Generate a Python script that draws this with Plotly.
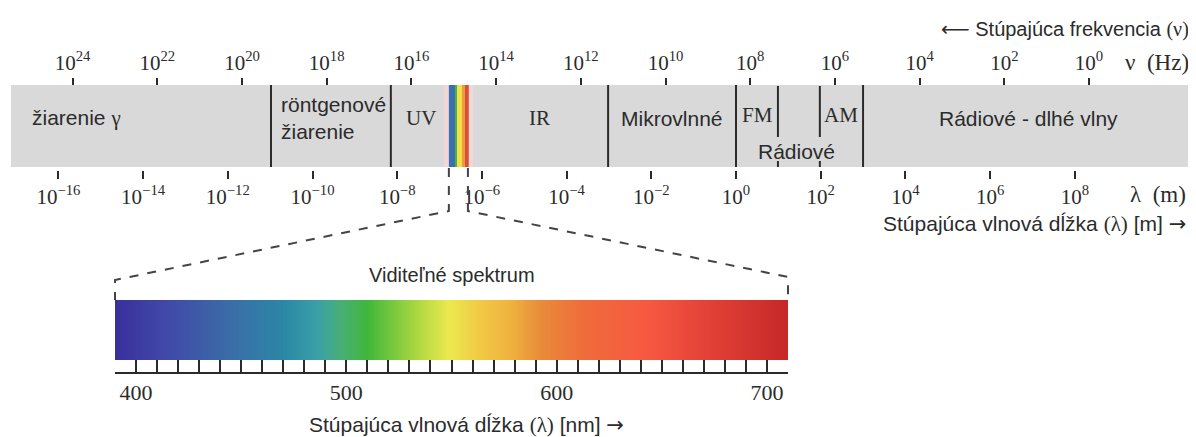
import plotly.graph_objects as go

# ---------------- data ----------------
# wavelength axis (log10 of metres) and frequency axis (log10 of Hz)
lambda_exponents = [-16, -14, -12, -10, -8, -6, -4, -2, 0, 2, 4, 6, 8]
nu_exponents = [24, 22, 20, 18, 16, 14, 12, 10, 8, 6, 4, 2, 0]

# grey band extent and region boundaries, in log10(lambda / m)
band_extent = [-17.12, 10.72]
full_boundaries = [-10.98, -8.15, -3.02, 0.0, 3.0]
fm_boundary = 0.99
am_boundary = 1.98

SERIF_SPAN = '<span style="font-family:Liberation Serif, Times New Roman, serif">{}</span>'
ARROW_SPAN = '<span style="font-family:DejaVu Sans">{}</span>'

# region labels
band_labels = ["žiarenie " + SERIF_SPAN.format("γ"), "röntgenové<br>žiarenie", "UV", "IR", "Mikrovlnné",
               "FM", "AM", "Rádiové", "Rádiové - dlhé vlny"]
band_label_pos = [-16.67, -10.8, -7.44, -4.63, -1.51, 0.5, 2.48, 1.44, 6.9]
band_label_serif = [False, False, True, True, False, True, True, False, False]
band_label_left = [True, True, False, False, False, False, False, False, False]
band_label_row = ["mid", "mid", "mid", "mid", "mid", "upper", "upper", "lower", "mid"]

# narrow visible strip inside the band (log10 lambda edges + colours)
strip_edges = [-6.78, -6.635, -6.588, -6.47, -6.40, -6.31]
strip_colors = ["#3b6fb0", "#4cb04a", "#f1e04a", "#f29a3a", "#d9503a"]
strip_halo = [-6.9, -6.21]

# visible spectrum (nm)
spectrum_range = [390, 710]
spectrum_stops_nm = [390, 414, 446, 470, 486, 497, 510, 533, 549, 565, 578, 592, 612, 644, 668, 710]
spectrum_colors = ["#3a2f9c", "#4148a8", "#3a6ea8", "#2b87a6", "#3a9fa8", "#48ae78",
                   "#40b73a", "#a9d741", "#ece84f", "#f1c743", "#efb33f", "#e88c39",
                   "#ef6d3a", "#f75841", "#e54438", "#c62828"]
nm_label_ticks = [400, 500, 600, 700]
nm_tick_labels = ["400", "500", "600", "700"]
nm_minor_step = 10

# ---------------- geometry helpers ----------------
# the page adds an 8 px body margin, so the figure is 8 px smaller and all
# reference pixel positions are shifted by OFF
OFF = 8
W, H = 1196 - OFF, 437 - OFF
PX_PER_DECADE = 42.35
L_AT_ZERO_PX = 736                 # reference pixel of lambda = 1 m
NU_AT_ZERO_PX = 1089               # reference pixel of nu = 1 Hz
L_RANGE = [(OFF - L_AT_ZERO_PX) / PX_PER_DECADE, (1196 - L_AT_ZERO_PX) / PX_PER_DECADE]
NU_RANGE = [(NU_AT_ZERO_PX - OFF) / PX_PER_DECADE, (NU_AT_ZERO_PX - 1196) / PX_PER_DECADE]
NM_DOMAIN = [(115 - OFF) / W, (788 - OFF) / W]

SANS = "Liberation Sans, Arial, sans-serif"
SERIF = "Liberation Serif, Times New Roman, serif"
INK = "#2b2b2b"


def px(xr):
    return (xr - OFF) / W


def py(yr):
    return 1 - (yr - OFF) / H


def L_to_paper(v):
    return (v - L_RANGE[0]) / (L_RANGE[1] - L_RANGE[0])


def nm_to_paper(v):
    return NM_DOMAIN[0] + (v - spectrum_range[0]) / (spectrum_range[1] - spectrum_range[0]) * (NM_DOMAIN[1] - NM_DOMAIN[0])


def sup_label(e):
    s = str(e).replace("-", "−")
    return f"10<sup>{s}</sup>"


fig = go.Figure()

# spectrum heatmap
edges = list(range(spectrum_range[0], spectrum_range[1] + 1))
centers = [e + 0.5 for e in edges[:-1]]
span = spectrum_range[1] - spectrum_range[0]
cscale = [[(n - spectrum_range[0]) / span, c] for n, c in zip(spectrum_stops_nm, spectrum_colors)]
fig.add_trace(go.Heatmap(x=edges, y=[300, 360], z=[centers], colorscale=cscale,
                         zmin=spectrum_range[0], zmax=spectrum_range[1], showscale=False,
                         hoverinfo="skip", xaxis="x3", yaxis="y"))

# invisible traces to activate the lambda / nu axes
fig.add_trace(go.Scatter(x=lambda_exponents, y=[None] * len(lambda_exponents), mode="markers",
                         showlegend=False, hoverinfo="skip", xaxis="x", yaxis="y"))
fig.add_trace(go.Scatter(x=nu_exponents, y=[None] * len(nu_exponents), mode="markers",
                         showlegend=False, hoverinfo="skip", xaxis="x2", yaxis="y"))

shapes = []
# grey band
shapes.append(dict(type="rect", xref="x", yref="y", x0=band_extent[0], x1=band_extent[1],
                   y0=85, y1=167, fillcolor="#d9d9d9", line=dict(width=0), layer="below"))
# halo around visible strip
shapes.append(dict(type="rect", xref="x", yref="y", x0=strip_halo[0], x1=strip_halo[1],
                   y0=85, y1=167, fillcolor="#f1d8d5", line=dict(width=0), layer="below"))
for i, c in enumerate(strip_colors):
    shapes.append(dict(type="rect", xref="x", yref="y", x0=strip_edges[i], x1=strip_edges[i + 1],
                       y0=85, y1=167, fillcolor=c, line=dict(width=0), layer="below"))
# boundaries
for b in full_boundaries:
    shapes.append(dict(type="line", xref="x", yref="y", x0=b, x1=b, y0=85, y1=167,
                       line=dict(color=INK, width=2)))
for b in (fm_boundary, am_boundary):
    shapes.append(dict(type="line", xref="x", yref="y", x0=b, x1=b, y0=86, y1=137,
                       line=dict(color=INK, width=2)))
    shapes.append(dict(type="line", xref="x", yref="y", x0=b, x1=b, y0=161, y1=167,
                       line=dict(color=INK, width=2)))

# dashed connectors from the strip to the spectrum
left_top = L_to_paper(strip_edges[0])
right_top = L_to_paper(-6.33)
lx, rx = nm_to_paper(spectrum_range[0]), nm_to_paper(spectrum_range[1])

shapes.append(dict(type="path", xref="paper", yref="paper",
                   path=f"M {left_top} {py(168)} L {left_top} {py(211)} L {lx} {py(280)} L {lx} {py(300)}",
                   line=dict(color="#444", width=2, dash="dash")))
shapes.append(dict(type="path", xref="paper", yref="paper",
                   path=f"M {right_top} {py(168)} L {right_top} {py(211)} L {rx} {py(277)} L {rx} {py(300)}",
                   line=dict(color="#444", width=2, dash="dash")))

annotations = []
row_y = {"mid": 118, "upper": 115, "lower": 151}
for txt, pos, serif, left, row in zip(band_labels, band_label_pos, band_label_serif,
                                      band_label_left, band_label_row):
    annotations.append(dict(x=pos, y=row_y[row], xref="x", yref="y", text=txt, showarrow=False,
                            xanchor="left" if left else "center", yanchor="middle",
                            align="left", font=dict(family=SERIF if serif else SANS, size=21, color=INK)))

annotations += [
    dict(x=px(1191), y=py(29), xref="paper", yref="paper",
         text=ARROW_SPAN.format("⟵") + " Stúpajúca frekvencia " + SERIF_SPAN.format("(ν)"),
         showarrow=False, xanchor="right", yanchor="middle", font=dict(family=SANS, size=20, color=INK)),
    dict(x=px(1191), y=py(63), xref="paper", yref="paper", text="ν  (Hz)",
         showarrow=False, xanchor="right", yanchor="middle", font=dict(family=SERIF, size=23, color=INK)),
    dict(x=px(1188), y=py(194), xref="paper", yref="paper", text="λ  (m)",
         showarrow=False, xanchor="right", yanchor="middle", font=dict(family=SERIF, size=23, color=INK)),
    dict(x=px(1188), y=py(224), xref="paper", yref="paper",
         text="Stúpajúca vlnová dĺžka " + SERIF_SPAN.format("(λ)") + " [m] " + ARROW_SPAN.format("→"),
         showarrow=False, xanchor="right", yanchor="middle", font=dict(family=SANS, size=21, color=INK)),
    dict(x=px(452), y=py(275), xref="paper", yref="paper", text="Viditeľné spektrum",
         showarrow=False, xanchor="center", yanchor="middle", font=dict(family=SANS, size=20, color=INK)),
    dict(x=px(466), y=py(425), xref="paper", yref="paper",
         text="Stúpajúca vlnová dĺžka " + SERIF_SPAN.format("(λ)") + " [nm] " + ARROW_SPAN.format("→"),
         showarrow=False, xanchor="center", yanchor="middle", font=dict(family=SANS, size=21, color=INK)),
]

tickfont = dict(family=SERIF, size=21, color=INK)
fig.update_layout(
    width=W, height=H, margin=dict(l=0, r=0, t=0, b=0),
    paper_bgcolor="white", plot_bgcolor="rgba(0,0,0,0)", showlegend=False,
    xaxis=dict(range=L_RANGE, domain=[0, 1], anchor="free", position=py(170), side="bottom",
               tickvals=lambda_exponents, ticktext=[sup_label(e) for e in lambda_exponents],
               ticks="outside", ticklen=8, tickwidth=1.5, tickcolor=INK, tickfont=tickfont,
               showgrid=False, zeroline=False, showline=False, fixedrange=True),
    xaxis2=dict(range=NU_RANGE, domain=[0, 1], anchor="free", position=py(85), side="top",
                overlaying="x", tickvals=nu_exponents, ticktext=[sup_label(e) for e in nu_exponents],
                ticks="outside", ticklen=7, tickwidth=1.5, tickcolor=INK, tickfont=tickfont,
                showgrid=False, zeroline=False, showline=False, fixedrange=True),
    xaxis3=dict(range=spectrum_range, domain=NM_DOMAIN, anchor="free", position=py(373), side="bottom",
                tickvals=nm_label_ticks, ticktext=nm_tick_labels, ticks="inside", ticklen=12, tickwidth=2,
                tickcolor=INK, tickfont=dict(family=SERIF, size=22, color=INK),
                minor=dict(tick0=spectrum_range[0], dtick=nm_minor_step, ticks="inside", ticklen=12,
                           tickwidth=2, tickcolor=INK, showgrid=False),
                showline=True, linewidth=2, linecolor=INK,
                showgrid=False, zeroline=False, fixedrange=True),
    yaxis=dict(range=[437, OFF], domain=[0, 1], visible=False, fixedrange=True),
    shapes=shapes, annotations=annotations,
)

fig.write_html("out.html")
